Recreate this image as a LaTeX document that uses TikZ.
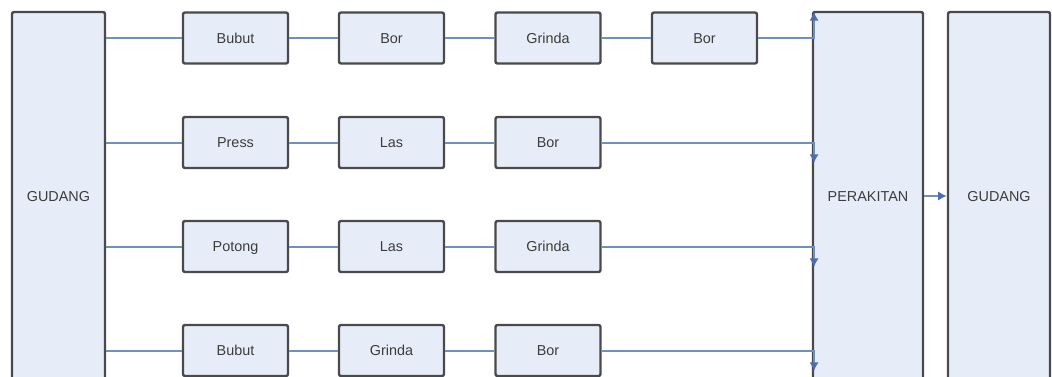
\documentclass[tikz,border=0pt]{standalone}
\usepackage{fontspec}
\setmainfont{Liberation Sans}
\usetikzlibrary{arrows.meta}
\definecolor{boxfill}{HTML}{E7EDF8}
\definecolor{boxline}{HTML}{4A4A4A}
\definecolor{wire}{HTML}{7090BC}
\definecolor{tip}{HTML}{4F6DAE}
\definecolor{ink}{HTML}{3C3C3C}
\tikzset{
  unit/.style={draw=boxline, line width=1.8pt, fill=boxfill, rounded corners=1.5pt,
    text=ink, font=\fontsize{10.8}{12}\selectfont, inner sep=0pt,
    text height=7.8pt, text depth=0pt},
  stepbox/.style={unit, minimum width=78.75pt, minimum height=38.25pt},
  wire/.style={draw=wire, line width=1.5pt},
  feed/.style={wire, -{Latex[length=6.5pt,width=7pt,color=tip]}},
}
\begin{document}
\begin{tikzpicture}[x=0.75pt, y=-0.75pt]
\useasboundingbox (0,0) rectangle (1052,376);
\clip (0,0) rectangle (1052,376);
% storage, assembly, finished-goods storage
\node[unit, minimum width=69.75pt, minimum height=276pt] (g1) at (58.5,196) {GUDANG};
\node[unit, minimum width=82.5pt, minimum height=276pt] (asm) at (868,196) {PERAKITAN};
\node[unit, minimum width=76.5pt, minimum height=276pt] (g2) at (999,196) {GUDANG};
% row 1
\node[stepbox] (a1) at (235.5,38) {Bubut};
\node[stepbox] (a2) at (391.5,38) {Bor};
\node[stepbox] (a3) at (548,38) {Grinda};
\node[stepbox] (a4) at (704.5,38) {Bor};
% row 2
\node[stepbox] (b1) at (235.5,142.5) {Press};
\node[stepbox] (b2) at (391.5,142.5) {Las};
\node[stepbox] (b3) at (548,142.5) {Bor};
% row 3
\node[stepbox] (c1) at (235.5,246.5) {Potong};
\node[stepbox] (c2) at (391.5,246.5) {Las};
\node[stepbox] (c3) at (548,246.5) {Grinda};
% row 4
\node[stepbox] (d1) at (235.5,350.5) {Bubut};
\node[stepbox] (d2) at (391.5,350.5) {Grinda};
\node[stepbox] (d3) at (548,350.5) {Bor};
% entry points on the assembly edge
\coordinate (e1) at (814,12);
\coordinate (e2) at (814,163);
\coordinate (e3) at (814,267);
\coordinate (e4) at (814,371);
% connectors
\draw[wire] (g1.east |- a1.west) -- (a1.west);
\draw[wire] (g1.east |- b1.west) -- (b1.west);
\draw[wire] (g1.east |- c1.west) -- (c1.west);
\draw[wire] (g1.east |- d1.west) -- (d1.west);
\draw[wire] (a1) -- (a2) (a2) -- (a3) (a3) -- (a4);
\draw[wire] (b1) -- (b2) (b2) -- (b3);
\draw[wire] (c1) -- (c2) (c2) -- (c3);
\draw[wire] (d1) -- (d2) (d2) -- (d3);
\draw[feed] (a4.east) -| (e1);
\draw[feed] (b3.east) -| (e2);
\draw[feed] (c3.east) -| (e3);
\draw[feed] (d3.east) -| (e4);
\draw[feed] (asm.east) -- (g2.west);
\end{tikzpicture}
\end{document}
